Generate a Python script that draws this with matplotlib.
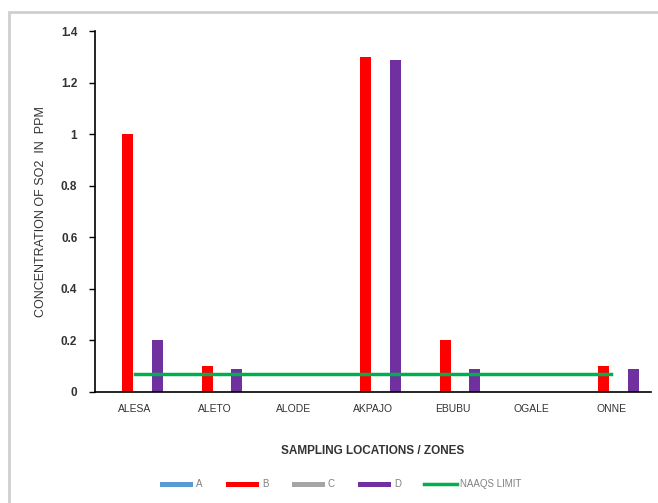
import numpy as np
import matplotlib.pyplot as plt
from matplotlib.patches import Rectangle

# data
locations = ["ALESA", "ALETO", "ALODE", "AKPAJO", "EBUBU", "OGALE", "ONNE"]
zone_a = [0, 0, 0, 0, 0, 0, 0]
zone_b = [1.0, 0.1, 0, 1.3, 0.2, 0, 0.1]
zone_c = [0, 0, 0, 0, 0, 0, 0]
zone_d = [0.2, 0.09, 0, 1.29, 0.09, 0, 0.09]
naaqs_limit = [0.07, 0.07, 0.07, 0.07, 0.07, 0.07, 0.07]
y_ticks = [0, 0.2, 0.4, 0.6, 0.8, 1, 1.2, 1.4]
y_tick_labels = ["0", "0.2", "0.4", "0.6", "0.8", "1", "1.2", "1.4"]

plt.rcParams['font.family'] = ['Liberation Sans', 'DejaVu Sans']

fig = plt.figure(figsize=(6.58, 5.03), dpi=100)
ax = fig.add_axes([0.145, 0.2207, 0.844, 0.7173])

x = np.arange(len(locations))
slot = 0.186
bw = 0.139
series = [("A", zone_a, "#5B9BD5"), ("B", zone_b, "#FF0000"),
          ("C", zone_c, "#A5A5A5"), ("D", zone_d, "#7030A0")]
handles = []
for i, (name, vals, col) in enumerate(series):
    handles.append(ax.bar(x + (i - 1.5) * slot, vals, bw, color=col, label=name))

line, = ax.plot(x, naaqs_limit, color="#00B050", lw=2.5, label="NAAQS LIMIT")
handles.append(line)

ax.set_xlim(-0.5, len(locations) - 0.5)
ax.set_ylim(0, 1.4)
ax.set_yticks(y_ticks)
ax.set_yticklabels(y_tick_labels, fontsize=8.5, fontweight="bold", color="#333333")
ax.set_xticks(x)
ax.set_xticklabels(locations, fontsize=7.5, color="#333333")
ax.tick_params(axis="x", length=0, pad=9)
ax.tick_params(axis="y", length=4, width=1, direction="out", pad=9)

for s in ["top", "right"]:
    ax.spines[s].set_visible(False)
ax.spines["left"].set_linewidth(1.2)
ax.spines["bottom"].set_linewidth(1.2)

ax.set_ylabel("CONCENTRATION OF SO2  IN  PPM", fontsize=9, color="#333333", labelpad=10)
ax.set_xlabel("SAMPLING LOCATIONS / ZONES", fontsize=8.5, fontweight="bold",
              color="#333333", labelpad=22)

leg = fig.legend(handles=handles, loc="center", bbox_to_anchor=(0.518, 0.037), ncol=5,
                 frameon=False, fontsize=7, handlelength=3.4, handletextpad=0.3,
                 columnspacing=2.4)
for t in leg.get_texts():
    t.set_color("#808080")
for h in leg.legend_handles:
    if isinstance(h, Rectangle):
        h.set_height(4)

# outer chart border
fig.patches.append(Rectangle((9 / 658, -0.1), 2, (503 - 12) / 503 + 0.1,
                             transform=fig.transFigure, fill=False,
                             edgecolor="#cfcfcf", lw=2))

fig.savefig("out.png", dpi=100)
